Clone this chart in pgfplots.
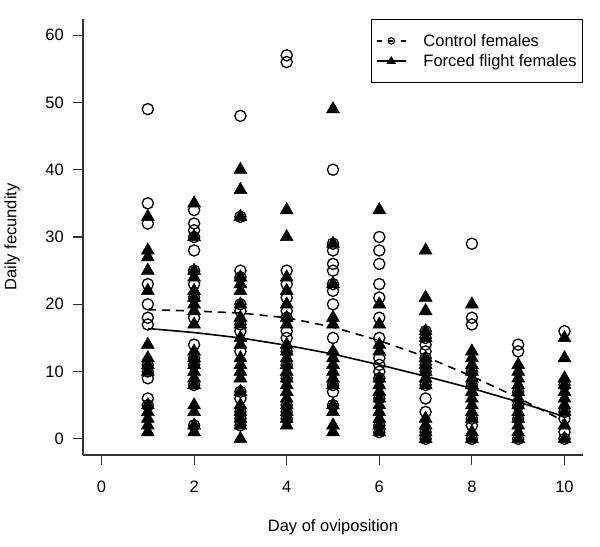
\documentclass[border=0pt]{standalone}
\usepackage{pgfplots}
\pgfplotsset{compat=1.18}
\usepackage{fontspec}
\setmainfont{Liberation Sans}
\newcommand{\fs}{\fontsize{16.5bp}{19bp}\selectfont}
\begin{document}
\fs
\begin{tikzpicture}[font=\fs]
\useasboundingbox (0,0) rectangle (600bp,547bp);
\begin{axis}[
  at={(83bp,92bp)}, anchor=south west,
  scale only axis, width=500bp, height=436bp,
  xmin=-0.4, xmax=10.4, ymin=-2.4, ymax=62.4,
  axis x line*=bottom, axis y line*=left,
  axis line style={black!80, line width=1.1bp},
  xtick={0,2,4,6,8,10}, ytick={0,10,20,30,40,50,60},
  xticklabels={}, yticklabels={},
  tick align=outside, major tick length=10bp,
  tick style={black!80, line width=1.1bp},
  label style={font=\fs},
  xlabel={Day of oviposition}, ylabel={Daily fecundity},
  xlabel style={at={(axis description cs:0.5,-0.165)}, anchor=center},
  ylabel style={at={(axis description cs:-0.142,0.5)}, anchor=center},
  legend style={at={(rel axis cs:1,1)}, anchor=north east, draw=black, line width=0.8bp,
    fill=white, inner xsep=5bp, inner ysep=11.5bp, row sep=0bp,
    font=\fs,
    nodes={inner sep=1bp, text height=15bp, text depth=3bp},
    /tikz/every odd column/.append style={column sep=16bp}},
  legend cell align=left,
  clip=false,
]
% Control females (open circles)
\addplot[only marks, mark=o, mark size=5.6bp, mark options={line width=1.3bp, black}, forget plot] coordinates {
(1,49)(1,35)(1,32)(1,23)(1,20)(1,18)(1,17)(1,11)(1,10)(1,9)(1,6)(1,5)
(2,34)(2,32)(2,31)(2,30)(2,28)(2,25)(2,23)(2,21)(2,18)(2,14)(2,12)(2,11)(2,8)(2,2)
(3,48)(3,33)(3,25)(3,24)(3,20)(3,19)(3,17)(3,16)(3,13)(3,7)(3,6)(3,4)(3,3)(3,2)
(4,57)(4,56)(4,25)(4,23)(4,21)(4,19)(4,18)(4,16)(4,15)(4,13)(4,11)(4,9)(4,5)(4,4)(4,3)
(5,40)(5,29)(5,28)(5,26)(5,25)(5,23)(5,22)(5,20)(5,15)(5,8)(5,7)(5,5)
(6,30)(6,28)(6,26)(6,23)(6,21)(6,18)(6,15)(6,12)(6,11)(6,10)(6,9)(6,6)(6,2)(6,1)
(7,16)(7,15)(7,14)(7,13)(7,12)(7,11)(7,10)(7,8)(7,6)(7,4)(7,1)(7,0)
(8,29)(8,18)(8,17)(8,10)(8,8)(8,3)(8,2)(8,0)
(9,14)(9,13)(9,7)(9,5)(9,3)(9,0)
(10,16)(10,8)(10,4)(10,3)(10,1)(10,0)
};
% Forced flight females (filled triangles)
\addplot[only marks, mark=triangle*, mark size=7.5bp, mark options={line width=0.5bp, black, fill=black}, forget plot] coordinates {
(1,33)(1,28)(1,27)(1,25)(1,22)(1,14)(1,12)(1,11)(1,10)(1,5)(1,4)(1,3)(1,2)(1,1)
(2,35)(2,30)(2,25)(2,24)(2,22)(2,21)(2,20)(2,19)(2,17)(2,13)(2,12)(2,11)(2,10)(2,9)(2,8)(2,5)(2,4)(2,2)(2,1)
(3,40)(3,37)(3,33)(3,24)(3,23)(3,22)(3,20)(3,18)(3,17)(3,15)(3,14)(3,12)(3,11)(3,10)(3,9)(3,7)(3,5)(3,4)(3,3)(3,2)(3,0)
(4,34)(4,30)(4,24)(4,22)(4,20)(4,18)(4,17)(4,14)(4,13)(4,12)(4,11)(4,10)(4,9)(4,8)(4,7)(4,6)(4,5)(4,4)(4,3)(4,2)
(5,49)(5,29)(5,23)(5,18)(5,17)(5,13)(5,12)(5,11)(5,10)(5,9)(5,8)(5,5)(5,4)(5,2)(5,1)
(6,34)(6,20)(6,17)(6,14)(6,13)(6,9)(6,8)(6,7)(6,6)(6,5)(6,4)(6,3)(6,2)(6,1)
(7,28)(7,21)(7,19)(7,16)(7,15)(7,12)(7,11)(7,10)(7,9)(7,8)(7,3)(7,2)(7,1)(7,0)
(8,20)(8,13)(8,12)(8,11)(8,10)(8,9)(8,8)(8,7)(8,6)(8,5)(8,4)(8,3)(8,1)(8,0)
(9,11)(9,10)(9,9)(9,8)(9,7)(9,6)(9,5)(9,4)(9,3)(9,2)(9,1)(9,0)
(10,15)(10,12)(10,9)(10,8)(10,7)(10,6)(10,5)(10,4)(10,2)(10,0)
};
% Fitted lines
\addplot[no marks, black, line width=1.6bp, dash pattern=on 8bp off 6bp, forget plot] coordinates {
(1,19.2)(2,19.0)(3,18.7)(4,18.0)(5,16.6)(6,14.6)(7,12.2)(8,9.3)(9,6.1)(10,2.6)};
\addplot[no marks, black, line width=1.6bp, forget plot] coordinates {
(1,16.4)(2,15.8)(3,15.0)(4,13.9)(5,12.6)(6,11.0)(7,9.3)(8,7.5)(9,5.5)(10,3.3)};
\addlegendimage{legend image code/.code={
  \draw[black, line width=1.3bp] (0bp,0bp) -- (5bp,0bp);
  \draw[black, line width=1.3bp] (12.5bp,0bp) -- (16.5bp,0bp);
  \draw[black, line width=1.3bp] (24bp,0bp) -- (29bp,0bp);
  \draw[black, line width=1.1bp] (14.5bp,0bp) circle (3.2bp);}}
\addlegendentry{Control females}
\addlegendimage{legend image code/.code={
  \draw[black, line width=1.3bp] (0bp,0bp) -- (29bp,0bp);
  \fill[black] (14.5bp,4bp) -- (10.5bp,-2.5bp) -- (18.5bp,-2.5bp) -- cycle;}}
\addlegendentry{Forced flight females}
% tick labels
\pgfplotsinvokeforeach{0,2,4,6,8,10}{
  \node[font=\fs, inner sep=0pt, anchor=center, yshift=-32bp] at (axis cs:#1,-2.4) {#1};}
\pgfplotsinvokeforeach{0,10,20,30,40,50,60}{
  \node[font=\fs, inner sep=0pt, anchor=east, xshift=-19bp] at (axis cs:-0.4,#1) {#1};}
\end{axis}
\end{tikzpicture}
\end{document}
